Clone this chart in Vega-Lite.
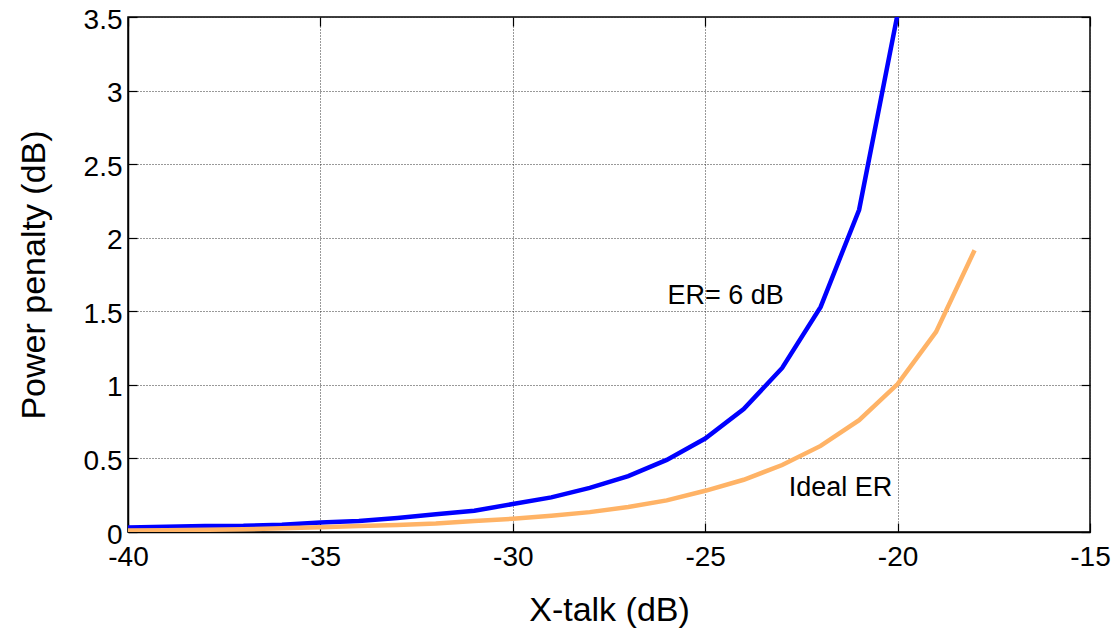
{
  "$schema": "https://vega.github.io/schema/vega-lite/v6.json",
  "autosize": "none",
  "width": 962,
  "height": 515,
  "padding": {"left": 128, "top": 17, "right": 22, "bottom": 99},
  "background": "white",
  "config": {
    "view": {"stroke": "black", "strokeWidth": 1.5},
    "font": "Liberation Sans",
    "axis": {
      "labelFont": "Liberation Sans",
      "titleFont": "Liberation Sans",
      "labelFontSize": 28,
      "titleFontSize": 34,
      "titleFontWeight": "normal",
      "labelColor": "black",
      "titleColor": "black",
      "labelFlush": false,
      "labelOverlap": false,
      "domainColor": "black",
      "domainWidth": 1.5,
      "tickColor": "black",
      "tickWidth": 1.2,
      "tickSize": -9,
      "gridColor": "#333333",
      "gridDash": [1, 2],
      "gridWidth": 1,
      "gridOpacity": 1
    }
  },
  "resolve": {"axis": {"x": "independent", "y": "independent"}},
  "layer": [
    {
      "data": {"values": [
        {"xt": -40, "pp": 0.03, "series": "ER= 6 dB"},
        {"xt": -39, "pp": 0.035, "series": "ER= 6 dB"},
        {"xt": -38, "pp": 0.04, "series": "ER= 6 dB"},
        {"xt": -37, "pp": 0.042, "series": "ER= 6 dB"},
        {"xt": -36, "pp": 0.05, "series": "ER= 6 dB"},
        {"xt": -35, "pp": 0.065, "series": "ER= 6 dB"},
        {"xt": -34, "pp": 0.075, "series": "ER= 6 dB"},
        {"xt": -33, "pp": 0.095, "series": "ER= 6 dB"},
        {"xt": -32, "pp": 0.12, "series": "ER= 6 dB"},
        {"xt": -31, "pp": 0.145, "series": "ER= 6 dB"},
        {"xt": -30, "pp": 0.19, "series": "ER= 6 dB"},
        {"xt": -29, "pp": 0.235, "series": "ER= 6 dB"},
        {"xt": -28, "pp": 0.3, "series": "ER= 6 dB"},
        {"xt": -27, "pp": 0.38, "series": "ER= 6 dB"},
        {"xt": -26, "pp": 0.49, "series": "ER= 6 dB"},
        {"xt": -25, "pp": 0.635, "series": "ER= 6 dB"},
        {"xt": -24, "pp": 0.835, "series": "ER= 6 dB"},
        {"xt": -23, "pp": 1.115, "series": "ER= 6 dB"},
        {"xt": -22, "pp": 1.53, "series": "ER= 6 dB"},
        {"xt": -21, "pp": 2.19, "series": "ER= 6 dB"},
        {"xt": -20, "pp": 3.52, "series": "ER= 6 dB"},
        {"xt": -40, "pp": 0.01, "series": "Ideal ER"},
        {"xt": -39, "pp": 0.012, "series": "Ideal ER"},
        {"xt": -38, "pp": 0.015, "series": "Ideal ER"},
        {"xt": -37, "pp": 0.018, "series": "Ideal ER"},
        {"xt": -36, "pp": 0.025, "series": "Ideal ER"},
        {"xt": -35, "pp": 0.033, "series": "Ideal ER"},
        {"xt": -34, "pp": 0.04, "series": "Ideal ER"},
        {"xt": -33, "pp": 0.048, "series": "Ideal ER"},
        {"xt": -32, "pp": 0.058, "series": "Ideal ER"},
        {"xt": -31, "pp": 0.075, "series": "Ideal ER"},
        {"xt": -30, "pp": 0.09, "series": "Ideal ER"},
        {"xt": -29, "pp": 0.11, "series": "Ideal ER"},
        {"xt": -28, "pp": 0.135, "series": "Ideal ER"},
        {"xt": -27, "pp": 0.17, "series": "Ideal ER"},
        {"xt": -26, "pp": 0.215, "series": "Ideal ER"},
        {"xt": -25, "pp": 0.28, "series": "Ideal ER"},
        {"xt": -24, "pp": 0.355, "series": "Ideal ER"},
        {"xt": -23, "pp": 0.455, "series": "Ideal ER"},
        {"xt": -22, "pp": 0.585, "series": "Ideal ER"},
        {"xt": -21, "pp": 0.76, "series": "Ideal ER"},
        {"xt": -20, "pp": 1.005, "series": "Ideal ER"},
        {"xt": -19, "pp": 1.36, "series": "Ideal ER"},
        {"xt": -18, "pp": 1.915, "series": "Ideal ER"}
      ]},
      "mark": {"type": "line", "strokeWidth": 4.5, "clip": true, "strokeJoin": "miter"},
      "encoding": {
        "x": {
          "field": "xt", "type": "quantitative",
          "scale": {"domain": [-40, -15], "nice": false},
          "axis": {"values": [-40, -35, -30, -25, -20, -15], "labelExpr": "'' + datum.value", "title": "X-talk (dB)", "labelPadding": 20, "titlePadding": 22}
        },
        "y": {
          "field": "pp", "type": "quantitative",
          "scale": {"domain": [0, 3.5], "nice": false, "zero": false},
          "axis": {"values": [0, 0.5, 1, 1.5, 2, 2.5, 3, 3.5], "labelExpr": "'' + datum.value", "labelOffset": 3, "title": "Power penalty (dB)", "labelPadding": 15, "titlePadding": 32}
        },
        "color": {
          "field": "series", "type": "nominal",
          "scale": {"domain": ["ER= 6 dB", "Ideal ER"], "range": ["#0000FF", "#FFB366"]},
          "legend": null
        }
      }
    },
    {
      "data": {"values": [
        {"xt": -25.98, "pp": 1.55, "label": "ER= 6 dB"},
        {"xt": -22.83, "pp": 0.245, "label": "Ideal ER"}
      ]},
      "mark": {"type": "text", "align": "left", "baseline": "alphabetic", "fontSize": 27, "font": "Liberation Sans", "color": "black"},
      "encoding": {
        "x": {
          "field": "xt", "type": "quantitative",
          "scale": {"domain": [-40, -15], "nice": false},
          "axis": {"orient": "top", "values": [-40, -35, -30, -25, -20, -15], "labels": false, "title": null, "grid": false, "domain": false}
        },
        "y": {
          "field": "pp", "type": "quantitative",
          "scale": {"domain": [0, 3.5], "nice": false, "zero": false},
          "axis": {"orient": "right", "values": [0, 0.5, 1, 1.5, 2, 2.5, 3, 3.5], "labels": false, "title": null, "grid": false, "domain": false}
        },
        "text": {"field": "label"}
      }
    }
  ]
}
